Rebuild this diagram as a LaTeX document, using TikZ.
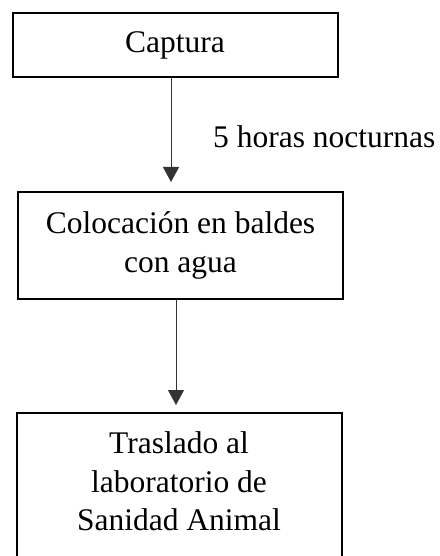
\documentclass[tikz,border=0pt]{standalone}
\usepackage{fontspec}
\setmainfont{Liberation Serif}
\usetikzlibrary{arrows.meta}
\begin{document}
\begin{tikzpicture}[x=1pt, y=1pt,
   letra/.style = {font=\fontsize{31.5}{38.5}\selectfont},
   paso/.style = {letra, draw, line width=2pt, minimum width=325pt, align=center, inner sep=0pt},
   flecha/.style = {line width=1pt, black!80, -{Triangle[width=16pt, length=15pt]}}]
\useasboundingbox (0,0) rectangle (439,-556);
\clip (0,0) rectangle (439,-556);

\node (cap) [paso, minimum height=64pt] at (175,-45) {Captura};
\node (col) [paso, minimum height=107pt] at (180.5,-245.5) {Colocación en baldes\\ con agua};
\node (tras) [paso, anchor=north, inner ysep=19pt, text depth=100pt] at (179,-412)
   {Traslado al\\ laboratorio de\\ Sanidad Animal};

\draw[flecha, shorten >=9pt] ([xshift=-4pt]cap.south) -- ([xshift=-9.5pt]col.north);
\draw[flecha, shorten >=7pt] ([xshift=-4.5pt]col.south) -- ([xshift=-3pt]tras.north);
\node (hrs) [letra, anchor=base west, inner sep=0pt] at (213,-148) {5 horas nocturnas};

\end{tikzpicture}
\end{document}
